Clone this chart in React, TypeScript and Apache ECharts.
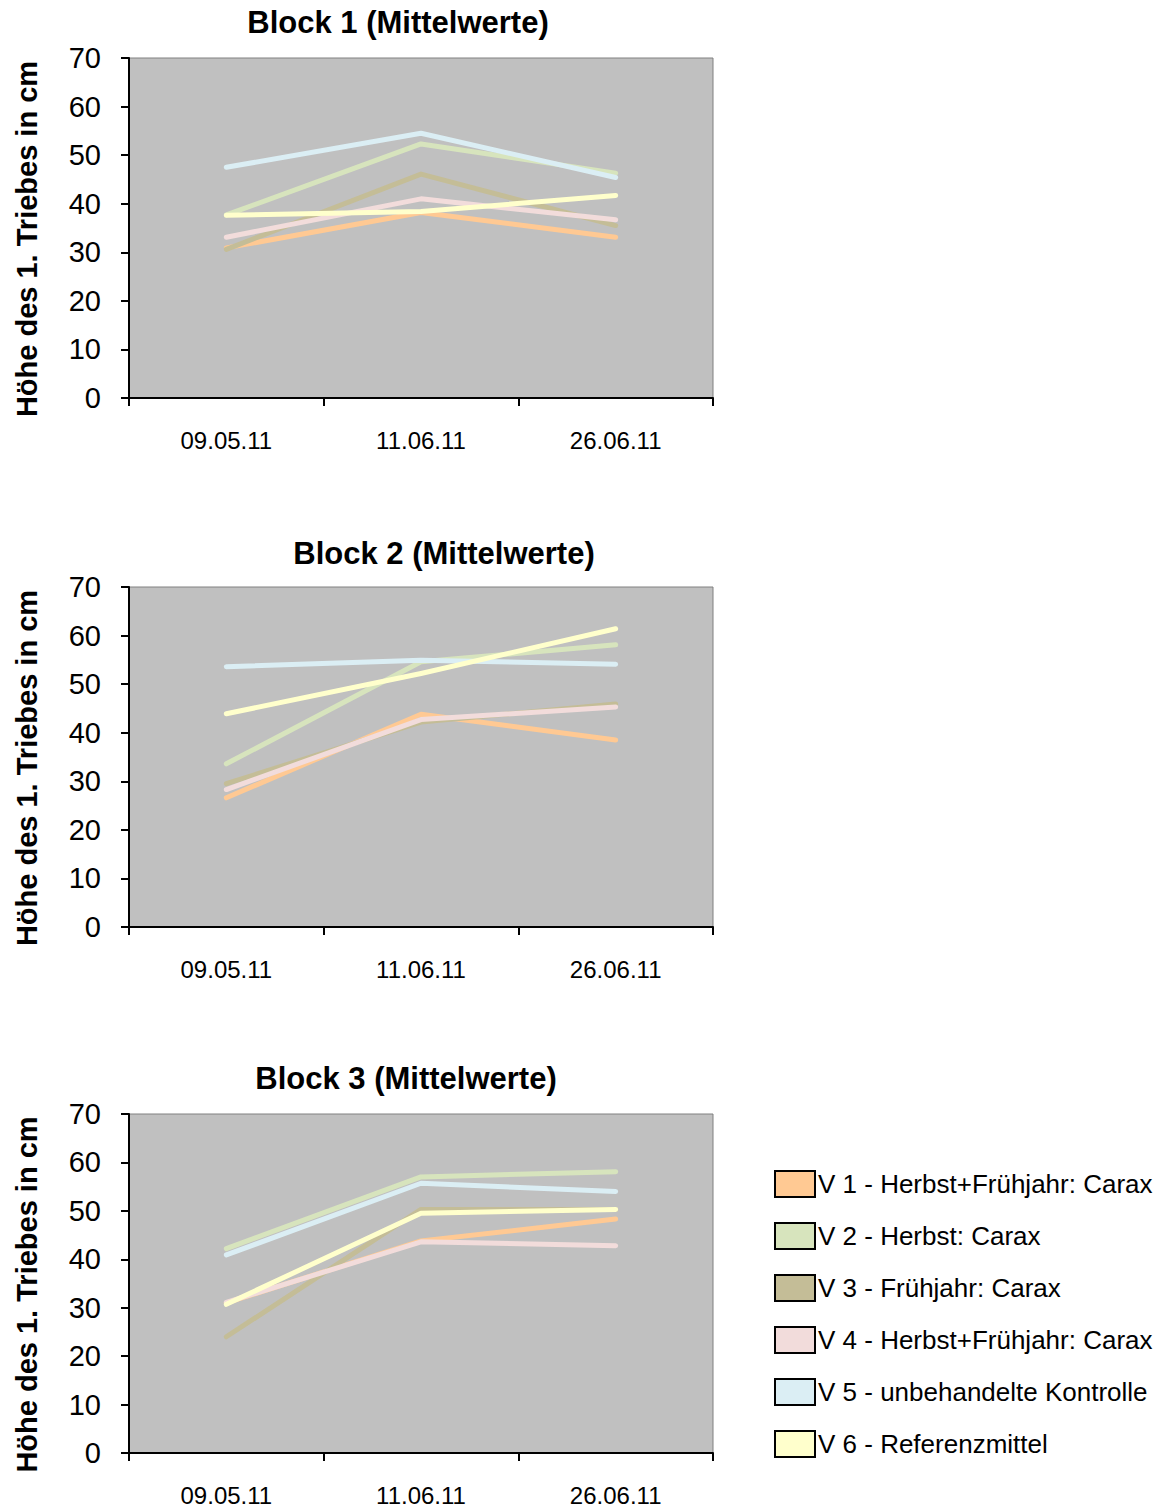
import React, { useEffect, useRef } from "react";
import * as echarts from "echarts";

const categories = ["09.05.11", "11.06.11", "26.06.11"];
const seriesNames = [
  "V 1 - Herbst+Frühjahr: Carax",
  "V 2 - Herbst: Carax",
  "V 3 - Frühjahr: Carax",
  "V 4 - Herbst+Frühjahr: Carax",
  "V 5 - unbehandelte Kontrolle",
  "V 6 - Referenzmittel",
];
const seriesColors = ["#FFC993", "#D7E4BD", "#C4BD97", "#F2DCDB", "#DBEEF4", "#FFFFCC"];

const block1 = [
  [30.9, 38.2, 33.1],
  [37.7, 52.3, 46.3],
  [30.6, 46.1, 35.5],
  [33.1, 41.0, 36.7],
  [47.5, 54.5, 45.4],
  [37.6, 38.4, 41.7],
];
const block2 = [
  [26.6, 43.8, 38.5],
  [33.6, 54.6, 58.1],
  [29.5, 42.2, 45.9],
  [28.3, 42.7, 45.3],
  [53.6, 54.9, 54.1],
  [43.9, 52.2, 61.4],
];
const block3 = [
  [31.0, 43.8, 48.3],
  [42.2, 57.0, 58.1],
  [24.0, 50.3, 50.3],
  [31.1, 43.6, 42.8],
  [40.9, 55.7, 54.0],
  [30.7, 49.5, 50.3],
];
const blocks = [block1, block2, block3];
const titles = ["Block 1 (Mittelwerte)", "Block 2 (Mittelwerte)", "Block 3 (Mittelwerte)"];
const yAxisName = "Höhe des 1. Triebes in cm";

const FONT = "Arial, 'Liberation Sans', sans-serif";

export default function App() {
  const ref = useRef<HTMLDivElement>(null);
  useEffect(() => {
    if (!ref.current) return;
    const chart = echarts.init(ref.current, null, { renderer: "svg" });
    const gridTops = [58, 587, 1114];
    const gridHeights = [340, 340, 339];
    const titleCenters = [398, 444, 406];
    const titleTops = [7, 538, 1063];

    const grids = gridTops.map((t, i) => ({
      left: 129,
      top: t,
      width: 584,
      height: gridHeights[i],
      show: true,
      backgroundColor: "#C0C0C0",
      borderColor: "#808080",
      borderWidth: 1,
    }));

    const xAxes = gridTops.map((_, i) => ({
      type: "category",
      gridIndex: i,
      data: categories,
      boundaryGap: true,
      axisLine: { show: true, lineStyle: { color: "#000", width: 2 } },
      axisTick: { show: true, length: 8, lineStyle: { color: "#000", width: 2 } },
      axisLabel: { color: "#000", fontSize: 24, fontFamily: FONT, margin: 30 },
      splitLine: { show: false },
    }));

    const yAxes = gridTops.map((_, i) => ({
      type: "value",
      gridIndex: i,
      min: 0,
      max: 70,
      interval: 10,
      name: yAxisName,
      nameLocation: "middle",
      nameGap: 88,
      nameTextStyle: {
        color: "#000",
        fontSize: 29,
        fontWeight: "bold",
        fontFamily: FONT,
        padding: [0, 22, 0, 0],
      },
      axisLine: { show: true, lineStyle: { color: "#000", width: 2 } },
      axisTick: { show: true, length: 8, lineStyle: { color: "#000", width: 2 } },
      axisLabel: { color: "#000", fontSize: 29, fontFamily: FONT, margin: 28 },
      splitLine: { show: false },
    }));

    const series: any[] = [];
    blocks.forEach((block, bi) => {
      block.forEach((vals, si) => {
        series.push({
          type: "line",
          name: seriesNames[si],
          xAxisIndex: bi,
          yAxisIndex: bi,
          data: vals,
          showSymbol: false,
          symbol: "none",
          color: seriesColors[si],
          lineStyle: { color: seriesColors[si], width: 5, cap: "round", join: "round" },
          itemStyle: { color: seriesColors[si], borderColor: "#000", borderWidth: 2 },
        });
      });
    });

    chart.setOption({
      animation: false,
      backgroundColor: "#fff",
      title: titles.map((t, i) => ({
        text: t,
        left: titleCenters[i],
        top: titleTops[i],
        textAlign: "center",
        padding: 0,
        textStyle: { color: "#000", fontSize: 31, fontWeight: "bold", fontFamily: FONT },
      })),
      legend: {
        orient: "vertical",
        left: 774,
        top: 1170,
        padding: 0,
        itemWidth: 40,
        itemHeight: 26,
        itemGap: 24,
        icon: "rect",
        data: seriesNames,
        textStyle: { color: "#000", fontSize: 26, fontFamily: FONT, padding: [0, 0, 0, -2] },
        itemStyle: { borderColor: "#000", borderWidth: 2 },
        selectedMode: false,
      },
      grid: grids,
      xAxis: xAxes,
      yAxis: yAxes,
      series,
    });
    return () => chart.dispose();
  }, []);
  return (
    <div
      ref={ref}
      style={{ position: "absolute", left: 0, top: 0, width: 1163, height: 1510 }}
    />
  );
}
